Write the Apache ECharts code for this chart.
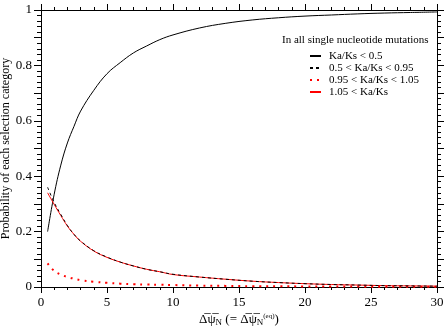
<!DOCTYPE html>
<html>
<head>
<meta charset="utf-8">
<script src="https://cdn.jsdelivr.net/npm/echarts@6/dist/echarts.min.js"></script>
<style>
  html, body { margin: 0; padding: 0; background: #fff; }
  #chart { width: 447px; height: 327px; }
</style>
</head>
<body>
<div id="chart"></div>
<script>
var FONT = 'Liberation Serif'

// mean delta psi_N
var xs = [0.5, 1, 1.5, 2, 2.5, 3, 4, 5, 6, 7, 8, 9, 10, 12, 14, 16, 18, 20, 22, 24, 26, 28, 30]

// Ka/Ks < 0.5
var negative = [0.20, 0.335, 0.44, 0.52, 0.58, 0.635, 0.71, 0.77, 0.81, 0.845, 0.87, 0.893, 0.91, 0.935, 0.952, 0.964, 0.972, 0.978, 0.982, 0.986, 0.989, 0.991, 0.993]
// 0.5 < Ka/Ks < 0.95
var weak = [0.36, 0.305, 0.262, 0.222, 0.19, 0.166, 0.131, 0.108, 0.09, 0.076, 0.064, 0.055, 0.046, 0.036, 0.028, 0.021, 0.016, 0.012, 0.009, 0.007, 0.005, 0.004, 0.003]
// 0.95 < Ka/Ks < 1.05
var neutral = [0.085, 0.058, 0.045, 0.036, 0.03, 0.025, 0.019, 0.015, 0.012, 0.010, 0.009, 0.008, 0.007, 0.005, 0.004, 0.003, 0.003, 0.002, 0.002, 0.0015, 0.001, 0.001, 0.001]
// 1.05 < Ka/Ks
var positive = [0.34, 0.298, 0.258, 0.22, 0.19, 0.165, 0.13, 0.107, 0.09, 0.076, 0.064, 0.055, 0.045, 0.036, 0.028, 0.021, 0.016, 0.012, 0.009, 0.007, 0.005, 0.004, 0.003]

var names = ['Ka/Ks < 0.5', '0.5 < Ka/Ks < 0.95', '0.95 < Ka/Ks < 1.05', '1.05 < Ka/Ks']

var pairs = function (ys) {
    var out = []
    for (var i = 0; i < xs.length; i++) {
        out.push([xs[i], ys[i]])
    }
    return out
}

var lineSeries = function (name, ys, color, type, width, z) {
    return {
        name: name,
        type: 'line',
        data: pairs(ys),
        smooth: 0.4,
        symbol: 'none',
        z: z,
        lineStyle: { color: color, width: width, type: type },
        itemStyle: { color: color }
    }
}

var tickAxis = function (pos, isX) {
    var ax = {
        type: 'value',
        position: pos,
        min: 0,
        max: isX ? 30 : 1,
        interval: isX ? 5 : 0.1,
        axisLine: { show: true, onZero: false, lineStyle: { color: '#000', width: 1 } },
        axisTick: { show: true, inside: false, length: 6, lineStyle: { color: '#000', width: 1 } },
        minorTick: { show: true, splitNumber: 5, length: 3, lineStyle: { color: '#000', width: 1 } },
        splitLine: { show: false },
        axisLabel: { show: false }
    }
    return ax
}

var xBottom = tickAxis('bottom', true)
xBottom.axisLabel = { show: true, margin: 9, fontFamily: FONT, fontSize: 13, color: '#000' }
xBottom.name = '{o|Δ̅ψ̅}{s|N} (= {o|Δ̅ψ̅}{s|N}{p|(eq)})'
xBottom.nameLocation = 'middle'
xBottom.nameGap = 25
xBottom.nameMoveOverlap = false
xBottom.nameTextStyle = {
    fontFamily: FONT, fontSize: 13, color: '#000',
    rich: {
        o: { fontFamily: FONT, fontSize: 13, color: '#000' },
        s: { fontFamily: FONT, fontSize: 9, color: '#000', padding: [6, 0, 0, 0] },
        p: { fontFamily: FONT, fontSize: 7, color: '#000', padding: [0, 0, 7, 0] }
    }
}

var xTop = tickAxis('top', true)

var yLeft = tickAxis('left', false)
yLeft.axisLabel = {
    show: true, margin: 9, fontFamily: FONT, fontSize: 13, color: '#000',
    formatter: function (v) {
        var k = Math.round(v * 10)
        if (k % 2 != 0) return ''
        return String(k / 10)
    }
}
yLeft.axisTick.length = 7
yLeft.minorTick.length = 4
yLeft.name = 'Probability of each selection category'
yLeft.nameLocation = 'middle'
yLeft.nameGap = 29
yLeft.nameMoveOverlap = false
yLeft.nameTextStyle = { fontFamily: FONT, fontSize: 12, color: '#000' }

var yRight = tickAxis('right', false)
yRight.axisTick.length = 7
yRight.minorTick.length = 4

var option = {
    animation: false,
    backgroundColor: '#fff',
    grid: { left: 41, right: 10, top: 10, bottom: 40, containLabel: false, outerBoundsMode: 'none' },
    title: {
        text: 'In all single nucleotide mutations',
        left: 282,
        top: 35,
        padding: 0,
        textStyle: { fontFamily: FONT, fontSize: 11, fontWeight: 'normal', color: '#000' }
    },
    legend: {
        data: names,
        orient: 'vertical',
        left: 309,
        top: 50,
        padding: 0,
        itemWidth: 11,
        itemHeight: 8,
        itemGap: 0,
        itemStyle: { opacity: 0 },
        textStyle: { fontFamily: FONT, fontSize: 11, lineHeight: 12, color: '#000', padding: [0, 0, 0, 3] }
    },
    xAxis: [xBottom, xTop],
    yAxis: [yLeft, yRight],
    series: [
        lineSeries(names[0], negative, '#000', 'solid', 1, 2),
        lineSeries(names[3], positive, '#ff0000', 'solid', 1, 2),
        lineSeries(names[1], weak, '#000', [3, 3], 1, 3),
        lineSeries(names[2], neutral, '#ff0000', [2, 5], 2, 2)
    ]
}

echarts.init(document.getElementById('chart'), null, { renderer: 'canvas' }).setOption(option)
</script>
</body>
</html>
